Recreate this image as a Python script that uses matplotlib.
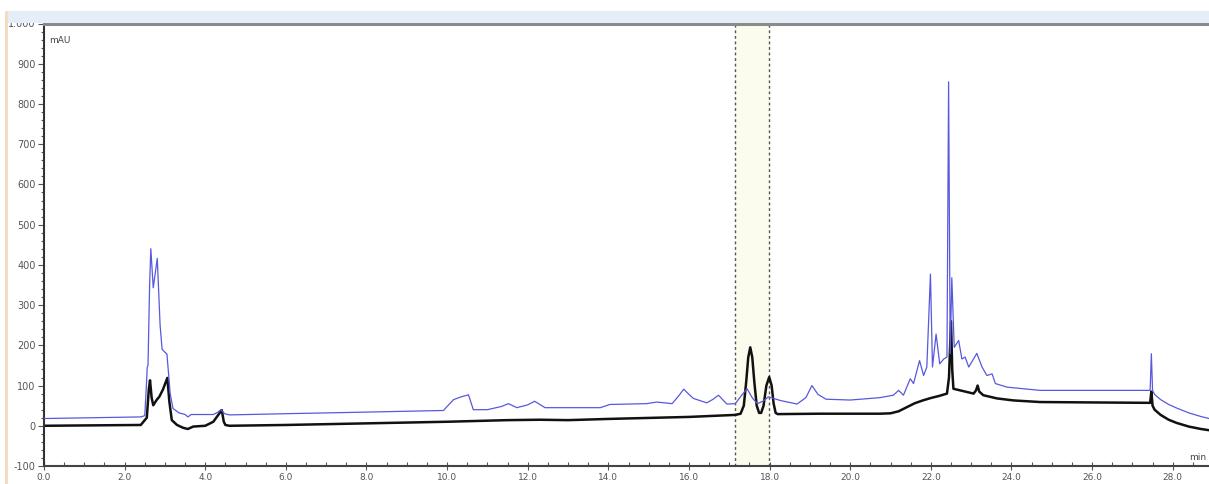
import matplotlib.pyplot as plt
from matplotlib.patches import Rectangle
from matplotlib.ticker import MultipleLocator, FuncFormatter

# retention time (min) / absorbance (mAU)
blue_t = [0.0, 2.4, 2.50, 2.54, 2.56, 2.58, 2.62, 2.65, 2.71, 2.81, 2.88, 2.93, 3.05, 3.13, 3.20,
          3.35, 3.50, 3.57, 3.65, 4.20, 4.30, 4.39, 4.48, 4.60, 6.0, 8.0, 9.91, 10.0, 10.16, 10.35,
          10.53, 10.65, 11.0, 11.35, 11.52, 11.73, 12.0, 12.17, 12.43, 13.8, 14.04, 14.95, 15.2,
          15.58, 15.75, 15.87, 16.0, 16.11, 16.44, 16.6, 16.73, 16.94, 17.15, 17.3, 17.44, 17.58,
          17.70, 17.85, 17.97, 18.26, 18.68, 18.90, 19.05, 19.20, 19.40, 20.0, 20.5, 20.74, 21.07,
          21.20, 21.32, 21.49, 21.57, 21.72, 21.82, 21.90, 21.99, 22.04, 22.13, 22.22, 22.32,
          22.40, 22.44, 22.48, 22.52, 22.58, 22.69, 22.77, 22.85, 22.94, 23.14, 23.27, 23.39,
          23.52, 23.60, 23.89, 24.71, 26.0, 27.44, 27.47, 27.50, 27.55, 27.70, 27.90, 28.10,
          28.40, 28.70, 28.90]
blue_v = [18, 22, 25, 100, 145, 150, 350, 440, 343, 416, 250, 190, 178, 80, 43,
          32, 28, 22, 28, 28, 33, 40, 30, 27, 30, 34, 38, 48, 65, 72,
          77, 40, 40, 48, 55, 45, 52, 61, 45, 45, 53, 55, 59,
          55, 75, 91, 78, 68, 57, 66, 76, 54, 55, 75, 92, 68,
          55, 62, 72, 63, 54, 70, 100, 78, 66, 64, 68, 70, 76,
          88, 76, 117, 105, 162, 125, 146, 377, 146, 228, 154, 166,
          171, 855, 179, 368, 195, 212, 166, 171, 146, 180, 146, 125,
          129, 105, 96, 88, 88, 88, 179, 88, 78, 65, 53, 44,
          32, 23, 18]

black_t = [0.0, 2.4, 2.55, 2.60, 2.63, 2.67, 2.71, 2.80, 2.86, 2.95, 3.06, 3.11, 3.17, 3.30,
           3.45, 3.57, 3.70, 4.00, 4.20, 4.33, 4.41, 4.46, 4.50, 4.60, 6.0, 8.0, 10.0, 11.5,
           12.3, 13.0, 14.0, 16.0, 17.15, 17.28, 17.36, 17.42, 17.47, 17.52, 17.57, 17.62, 17.68,
           17.74, 17.79, 17.85, 17.92, 17.99, 18.05, 18.10, 18.15, 18.20, 19.26, 20.74, 21.0,
           21.2, 21.4, 21.6, 21.8, 22.0, 22.2, 22.40, 22.45, 22.50, 22.53, 22.56, 23.06, 23.12,
           23.16, 23.20, 23.30, 23.64, 24.05, 24.71, 26.0, 27.44, 27.47, 27.50, 27.55, 27.70,
           27.90, 28.10, 28.40, 28.70, 28.90]
black_v = [0, 2, 20, 90, 113, 70, 51, 65, 72, 90, 119, 60, 14, 2,
           -5, -8, -2, 0, 10, 28, 39, 10, 2, 0, 2, 6, 10, 14,
           15, 14, 17, 22, 27, 30, 50, 110, 170, 195, 170, 110, 50,
           32, 32, 50, 100, 121, 100, 55, 32, 29, 30, 30, 31,
           36, 46, 56, 63, 69, 74, 80, 120, 260, 140, 92, 80, 88,
           100, 85, 76, 68, 63, 59, 58, 57, 85, 50, 40, 27,
           15, 7, -2, -8, -11]

window = (17.13, 17.98)

fig = plt.figure(figsize=(12.09, 4.85), dpi=100)
# window decoration: light blue header strip and beige left border
fig.patches.append(Rectangle((8 / 1209, 1 - 24 / 485), 1, 12 / 485, transform=fig.transFigure,
                             facecolor='#e5edf9', edgecolor='none', zorder=0))
fig.patches.append(Rectangle((5 / 1209, 0), 3 / 1209, 1 - 12 / 485, transform=fig.transFigure,
                             facecolor='#f3dcc0', edgecolor='none', zorder=0))

ax = fig.add_axes([44 / 1209, 1 - 467 / 485, 1 - 44 / 1209, (467 - 24.5) / 485])
ax.set_xlim(0, 28.9)
ax.set_ylim(-100, 1000)

ax.axvspan(window[0], window[1], color='#fbfbee', zorder=0)
for x in window:
    ax.axvline(x, color='#555555', lw=1, ls=(0, (2, 2)), zorder=1)

ax.plot(black_t, black_v, color='#111111', lw=1.8, zorder=2, solid_joinstyle='round')
ax.plot(blue_t, blue_v, color='#5858de', lw=0.9, zorder=3, solid_joinstyle='round')

ax.spines['right'].set_visible(False)
ax.spines['top'].set_color('#8a8a8a')
ax.spines['top'].set_linewidth(2.2)
ax.spines['left'].set_color('#333333')
ax.spines['left'].set_linewidth(1.5)
ax.spines['bottom'].set_color('#444444')
ax.spines['bottom'].set_linewidth(1.5)

ax.xaxis.set_major_locator(MultipleLocator(2))
ax.xaxis.set_minor_locator(MultipleLocator(0.5))
ax.yaxis.set_major_locator(MultipleLocator(100))
ax.yaxis.set_minor_locator(MultipleLocator(20))
ax.xaxis.set_major_formatter(FuncFormatter(lambda v, p: '%.1f' % v))
ax.yaxis.set_major_formatter(FuncFormatter(lambda v, p: '1.000' if v == 1000 else '%d' % v))

ax.tick_params(axis='x', which='major', direction='inout', length=6, width=0.8,
               colors='#555555', labelsize=6.5, pad=1.5)
ax.tick_params(axis='x', which='minor', direction='in', length=3, width=0.8, colors='#555555')
ax.tick_params(axis='y', which='major', direction='out', length=4, width=0.8,
               colors='#555555', labelsize=7, pad=2)
ax.tick_params(axis='y', which='minor', direction='out', length=2, width=0.8, colors='#555555')
ax.get_yticklabels()  # make sure labels exist
for lbl in ax.yaxis.get_majorticklabels():
    lbl.set_verticalalignment('center')

ax.text(0.004, 0.975, 'mAU', transform=ax.transAxes, fontsize=6.5, color='#444444',
        ha='left', va='top')
ax.text(0.998, 0.012, 'min', transform=ax.transAxes, fontsize=6.5, color='#444444',
        ha='right', va='bottom')

fig.savefig('out.png', dpi=100)
